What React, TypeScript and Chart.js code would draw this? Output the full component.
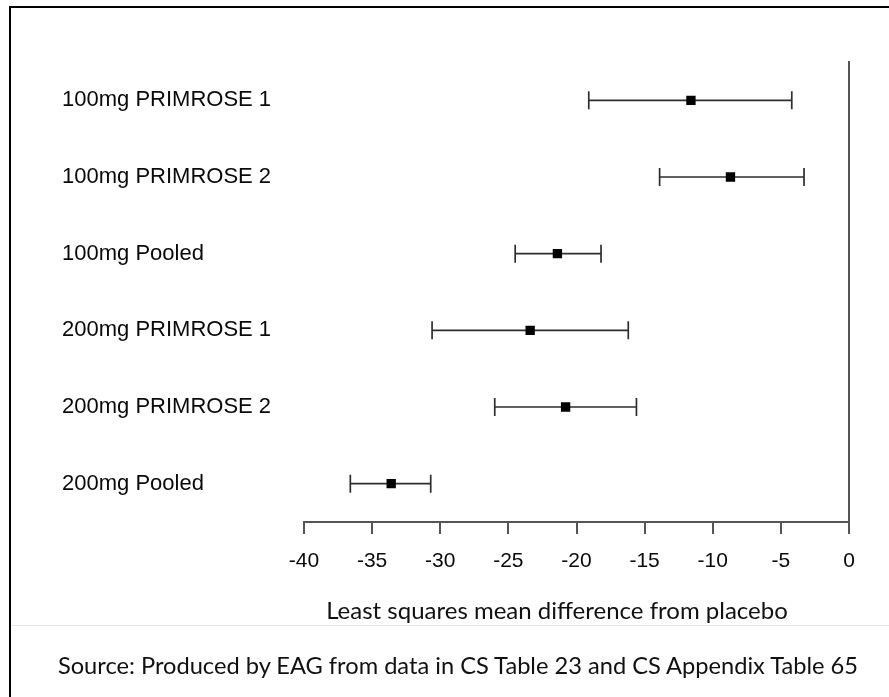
import React, { useEffect, useRef } from 'react';
import { Chart, registerables } from 'chart.js';

Chart.register(...registerables);

const categories = [
  '100mg PRIMROSE 1',
  '100mg PRIMROSE 2',
  '100mg Pooled',
  '200mg PRIMROSE 1',
  '200mg PRIMROSE 2',
  '200mg Pooled',
];
const estimates = [-11.6, -8.7, -21.4, -23.4, -20.8, -33.6];
const lowerCI = [-19.1, -13.9, -24.5, -30.6, -26.0, -36.6];
const upperCI = [-4.2, -3.3, -18.2, -16.2, -15.6, -30.7];
const xTicks = [-40, -35, -30, -25, -20, -15, -10, -5, 0];
const xAxisTitle = 'Least squares mean difference from placebo';
const sourceNote = 'Source: Produced by EAG from data in CS Table 23 and CS Appendix Table 65';

const W = 889;
const H = 697;
const ARIAL = '"Liberation Sans", Arial, sans-serif';
const CAL = 'Lato, "Open Sans", sans-serif';

const errorBarPlugin = {
  id: 'errorBars',
  beforeDatasetsDraw(chart: any) {
    const { ctx, scales } = chart;
    const x = scales.x;
    const y = scales.y;
    ctx.save();
    ctx.strokeStyle = '#2e2e2e';
    ctx.lineWidth = 1.7;
    categories.forEach((_, i) => {
      const py = y.getPixelForValue(i);
      const x1 = x.getPixelForValue(lowerCI[i]);
      const x2 = x.getPixelForValue(upperCI[i]);
      ctx.beginPath();
      ctx.moveTo(x1, py);
      ctx.lineTo(x2, py);
      ctx.moveTo(x1, py - 9);
      ctx.lineTo(x1, py + 9);
      ctx.moveTo(x2, py - 9);
      ctx.lineTo(x2, py + 9);
      ctx.stroke();
    });
    ctx.restore();
  },
};

export default function App() {
  const ref = useRef<HTMLCanvasElement | null>(null);

  useEffect(() => {
    if (!ref.current) return;
    const chart = new Chart(ref.current, {
      type: 'scatter',
      data: {
        datasets: [
          {
            label: 'Estimate',
            data: estimates.map((v, i) => ({ x: v, y: categories[i] })) as any,
            pointStyle: 'rect',
            pointRadius: 6.6,
            pointHoverRadius: 6.6,
            backgroundColor: '#000',
            borderColor: '#000',
            borderWidth: 0,
            showLine: false,
          },
        ],
      },
      options: {
        animation: false,
        responsive: false,
        maintainAspectRatio: false,
        events: [],
        layout: { padding: { left: 62, right: 40, top: 62, bottom: 115 } },
        plugins: {
          legend: { display: false },
          tooltip: { enabled: false },
          title: { display: false },
        },
        scales: {
          x: {
            type: 'linear',
            min: -40,
            max: 0,
            position: 'bottom',
            afterBuildTicks: (s: any) => {
              s.ticks = xTicks.map((value) => ({ value }));
            },
            grid: {
              display: true,
              drawOnChartArea: false,
              drawTicks: true,
              tickLength: 12,
              color: '#555',
              lineWidth: 2,
            },
            border: { display: true, color: '#555', width: 2 },
            ticks: {
              color: '#0a0a0a',
              font: { family: ARIAL, size: 21 },
              padding: 15,
              maxRotation: 0,
              autoSkip: false,
              callback: (v: any) => String(v),
            },
            afterFit: (s: any) => {
              s.height = 60;
            },
          },
          y: {
            type: 'category',
            labels: categories,
            offset: true,
            position: 'left',
            grid: { display: false },
            border: { display: false },
            ticks: {
              crossAlign: 'far',
              color: '#0a0a0a',
              font: { family: ARIAL, size: 22 },
              autoSkip: false,
            },
            afterFit: (s: any) => {
              s.width = 242;
            },
          },
          y2: {
            type: 'linear',
            position: 'right',
            display: true,
            grid: { display: false },
            border: { display: true, color: '#555', width: 2 },
            ticks: { display: false },
            afterFit: (s: any) => {
              s.width = 0;
            },
          },
        },
      } as any,
      plugins: [errorBarPlugin],
    });
    return () => chart.destroy();
  }, []);

  return (
    <div
      style={{
        position: 'fixed',
        left: 0,
        top: 0,
        width: W,
        height: H,
        background: '#fff',
        overflow: 'hidden',
      }}
    >
      <canvas ref={ref} width={W} height={H} style={{ position: 'absolute', left: 0, top: 0, width: W, height: H }} />
      <div
        style={{
          position: 'absolute',
          left: 9,
          top: 6,
          width: 1000,
          height: 1000,
          borderTop: '2px solid #000',
          borderLeft: '2px solid #000',
          pointerEvents: 'none',
        }}
      />
      <div
        style={{
          position: 'absolute',
          left: 11,
          top: 625,
          width: W - 11,
          height: 1,
          background: '#e4e4e4',
        }}
      />
      <div
        style={{
          position: 'absolute',
          left: 557 - 300,
          width: 600,
          top: 596,
          textAlign: 'center',
          fontFamily: CAL,
          fontSize: 24,
          lineHeight: '28px',
          color: '#111',
          whiteSpace: 'nowrap',
        }}
      >
        {xAxisTitle}
      </div>
      <div
        style={{
          position: 'absolute',
          left: 458 - 440,
          width: 880,
          top: 651,
          textAlign: 'center',
          fontFamily: CAL,
          fontSize: 23.65,
          lineHeight: '28px',
          color: '#111',
          whiteSpace: 'nowrap',
        }}
      >
        {sourceNote}
      </div>
    </div>
  );
}
